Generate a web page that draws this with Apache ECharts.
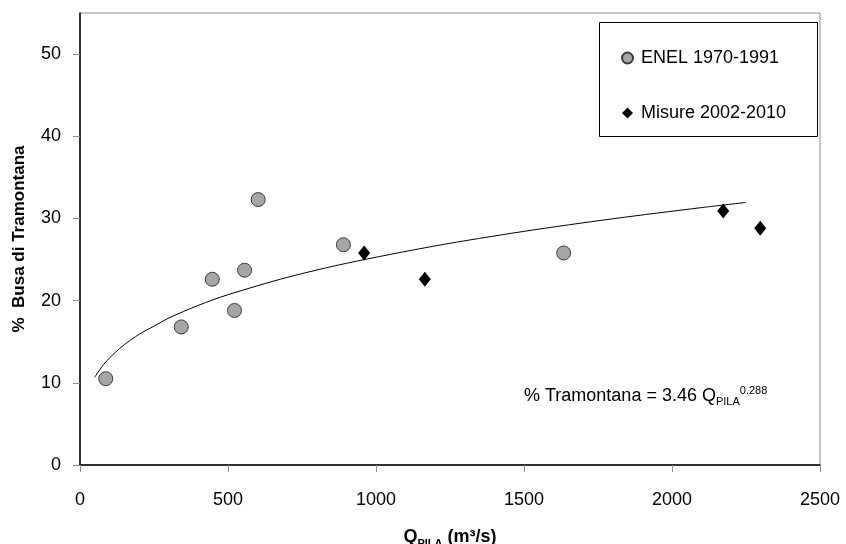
<!DOCTYPE html>
<html>
<head>
<meta charset="utf-8">
<script src="https://cdn.jsdelivr.net/npm/echarts@6/dist/echarts.min.js"></script>
<style>html,body{margin:0;padding:0;background:#fff;}#c{width:846px;height:544px;}</style>
</head>
<body>
<div id="c"></div>
<script>
// ---- data ----
const enelX = [87, 342, 447, 522, 556, 602, 890, 1634];
const enelY = [10.5, 16.8, 22.6, 18.8, 23.7, 32.3, 26.8, 25.8];
const misX = [960, 1165, 2173, 2298];
const misY = [25.8, 22.6, 30.9, 28.8];
// points read along the fitted curve % Tramontana = 3.46 Q^0.288
const trendX = [50, 55, 60, 67, 75, 85, 100, 120, 150, 200, 250, 300, 400, 500, 700, 900, 1200, 1500, 1800, 2100, 2250];
const trendY = [10.67, 10.97, 11.25, 11.61, 12.0, 12.44, 13.03, 13.72, 14.65, 15.91, 16.9, 17.88, 19.43, 20.72, 22.83, 24.54, 26.66, 28.43, 29.96, 31.32, 31.95];
const xTicks = [0, 500, 1000, 1500, 2000, 2500];
const yTicks = [0, 10, 20, 30, 40, 50];
const seriesNames = ['ENEL 1970-1991', 'Misure 2002-2010'];

const zip = (a, b) => a.map((v, i) => [v, b[i]]);
const FONT = "'Liberation Sans', Arial, sans-serif";

const chart = echarts.init(document.getElementById('c'), null, {renderer: 'canvas'});
chart.setOption({
  animation: false,
  backgroundColor: '#fff',
  textStyle: {fontFamily: FONT},
  grid: {left: 80, top: 13, width: 740, height: 452, show: true, borderColor: '#8c8c8c', borderWidth: 1,
         backgroundColor: 'transparent', containLabel: false, outerBoundsMode: 'none'},
  legend: {
    data: seriesNames.map(n => ({name: n})),
    orient: 'vertical', left: 616, top: 44, itemGap: 37,
    itemWidth: 11, itemHeight: 11,
    textStyle: {fontSize: 18, color: '#000', fontFamily: FONT, padding: [0, 0, 0, 3]}
  },
  xAxis: {
    type: 'value', min: xTicks[0], max: xTicks[xTicks.length - 1], interval: 500,
    splitLine: {show: false},
    axisLine: {lineStyle: {color: '#000', width: 1.5}, onZero: false},
    axisTick: {show: true, inside: false, length: 7, lineStyle: {color: '#8c8c8c'}, customValues: xTicks},
    axisLabel: {fontSize: 18, color: '#000', margin: 26, customValues: xTicks, formatter: v => String(v)},
    name: '{q|Q}{sub|PILA}{q| (m³/s)}',
    nameLocation: 'middle', nameGap: 60,
    nameTextStyle: {
      rich: {
        q: {fontSize: 18, fontWeight: 'bold', color: '#000', lineHeight: 24, fontFamily: FONT},
        sub: {fontSize: 11, fontWeight: 'bold', color: '#000', lineHeight: 11, verticalAlign: 'bottom', fontFamily: FONT}
      }
    }
  },
  yAxis: {
    type: 'value', min: 0, max: 55, interval: 10,
    splitLine: {show: false},
    axisLine: {lineStyle: {color: '#000', width: 1.5}, onZero: false},
    axisTick: {show: true, inside: false, length: 7, lineStyle: {color: '#8c8c8c'}, customValues: yTicks},
    axisLabel: {fontSize: 18, color: '#000', margin: 19, customValues: yTicks, formatter: v => String(v)},
    name: '%  Busa di Tramontana',
    nameLocation: 'middle', nameGap: 52,
    nameTextStyle: {fontSize: 17, fontWeight: 'bold', color: '#000', fontFamily: FONT}
  },
  graphic: [
    {type: 'rect', left: 599, top: 22, shape: {width: 218, height: 114}, style: {fill: 'transparent', stroke: '#000', lineWidth: 1}, z: 1},
    {type: 'text', left: 524, top: 385, style: {
      text: '{m|% Tramontana = 3.46 Q}{sub|PILA}{sup|0.288}',
      rich: {
        m: {fontSize: 18, fill: '#000', lineHeight: 22, fontFamily: FONT},
        sub: {fontSize: 11, fill: '#000', lineHeight: 11, verticalAlign: 'bottom', fontFamily: FONT},
        sup: {fontSize: 11, fill: '#000', lineHeight: 11, verticalAlign: 'top', fontFamily: FONT}
      }
    }}
  ],
  series: [
    {
      type: 'line', name: 'trend', data: zip(trendX, trendY), smooth: 0.3, showSymbol: false,
      lineStyle: {color: '#000', width: 1}, silent: true, z: 2
    },
    {
      type: 'scatter', name: seriesNames[0], data: zip(enelX, enelY), symbol: 'circle', symbolSize: 14,
      itemStyle: {color: '#a6a6a6', borderColor: '#3a3a3a', borderWidth: 1, opacity: 1}, z: 3
    },
    {
      type: 'scatter', name: seriesNames[1], data: zip(misX, misY), symbol: 'diamond', symbolSize: [12, 15],
      itemStyle: {color: '#000', opacity: 1}, z: 3
    }
  ]
});
</script>
</body>
</html>
